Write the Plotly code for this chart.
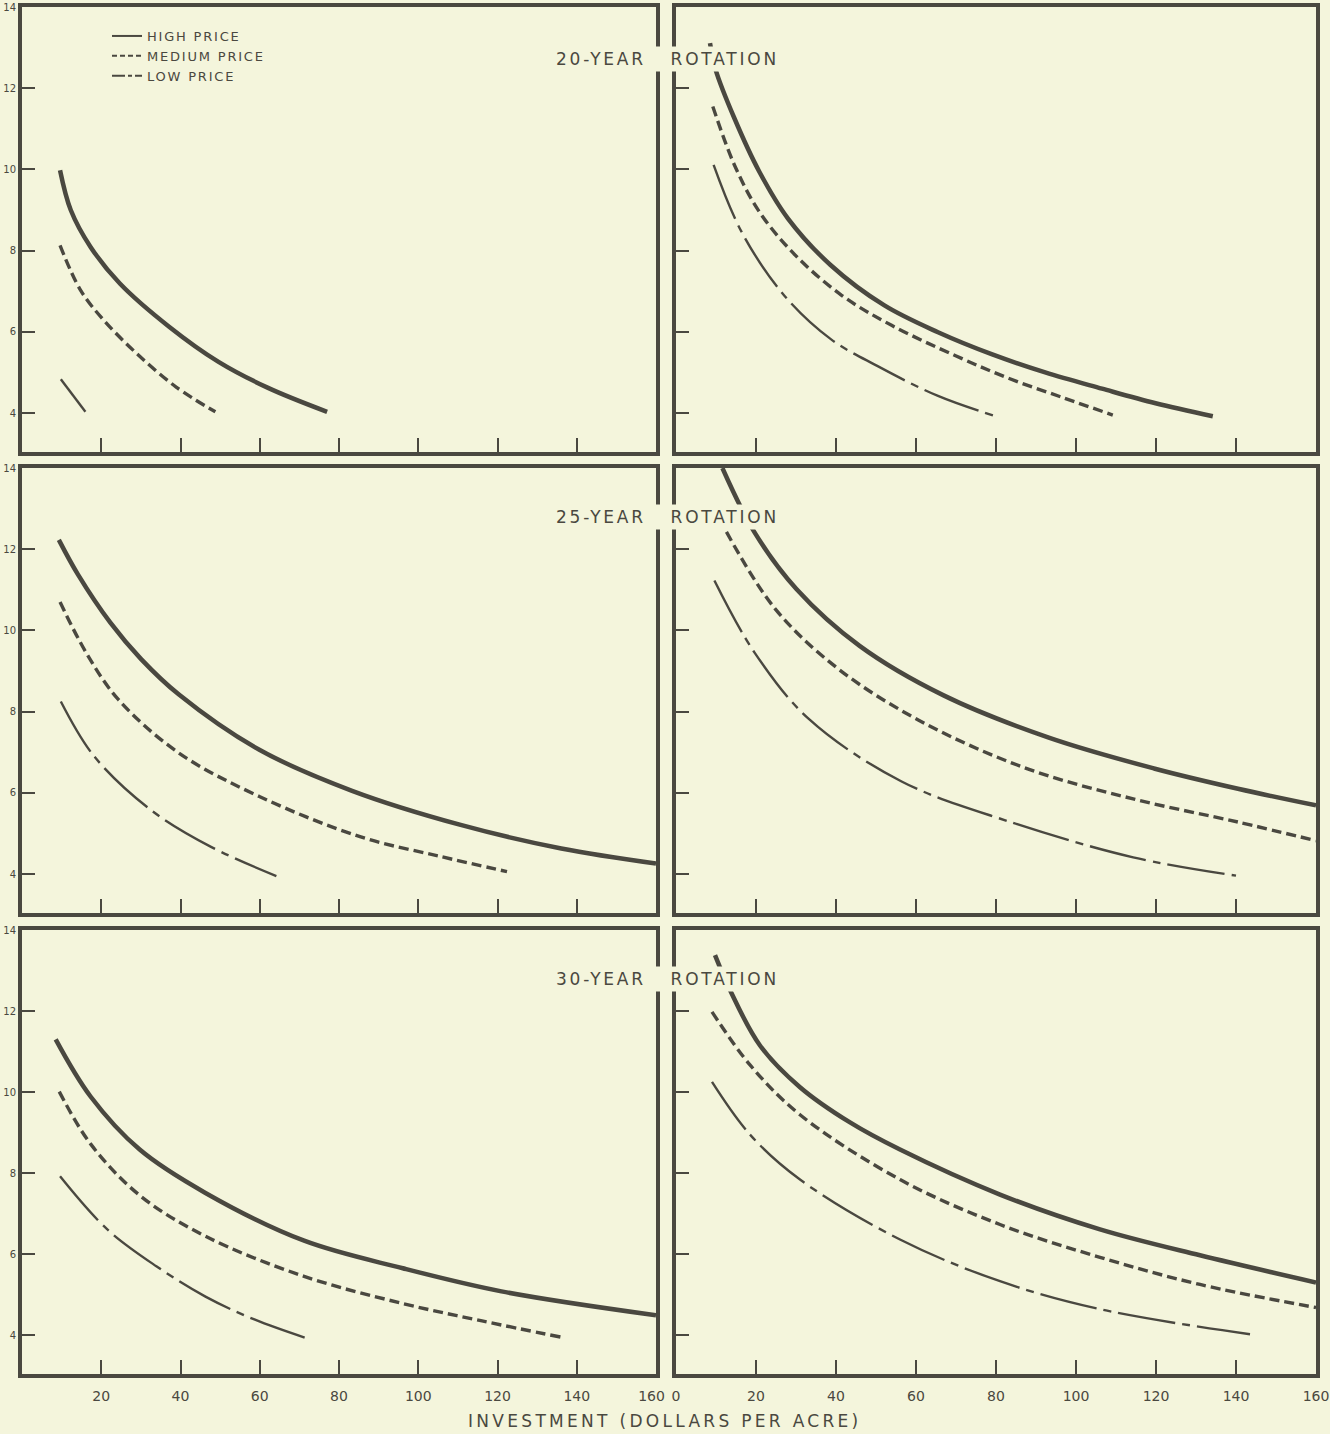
import plotly.graph_objects as go

# ---------------- data ----------------
ROTATION_LABELS = ["20-YEAR ROTATION", "25-YEAR ROTATION", "30-YEAR ROTATION"]
PRICE_LABELS = ["HIGH PRICE", "MEDIUM PRICE", "LOW PRICE"]
X_AXIS_TITLE = "INVESTMENT (DOLLARS PER ACRE)"

X_TICK_VALUES = [0, 20, 40, 60, 80, 100, 120, 140, 160]
X_TICK_TEXT = ["0", "20", "40", "60", "80", "100", "120", "140", "160"]
Y_TICK_VALUES = [4, 6, 8, 10, 12, 14]
Y_TICK_TEXT = ["4", "6", "8", "10", "12", "14"]

# 20-year rotation, left panel
R20L_HIGH_X = [9.6, 12.3, 17.3, 24.7, 37.2, 49.6, 62.1, 77.0]
R20L_HIGH_Y = [9.98, 9.0, 8.09, 7.19, 6.12, 5.26, 4.62, 4.03]
R20L_MED_X = [9.6, 14.8, 20.6, 28.9, 38.9, 48.8]
R20L_MED_Y = [8.13, 7.02, 6.29, 5.47, 4.64, 4.03]
R20L_LOW_X = [9.8, 16.0]
R20L_LOW_Y = [4.83, 4.03]

# 20-year rotation, right panel
R20R_HIGH_X = [8.5, 9.9, 14.6, 20.8, 28.0, 38.7, 52.1, 65.5, 78.9, 92.3, 106.5, 119.9, 134.2]
R20R_HIGH_Y = [13.11, 12.46, 11.26, 9.95, 8.79, 7.64, 6.65, 5.99, 5.45, 5.0, 4.6, 4.24, 3.92]
R20R_MED_X = [9.2, 14.6, 20.8, 29.8, 41.4, 53.9, 69.9, 83.3, 96.7, 109.2]
R20R_MED_Y = [11.55, 10.11, 8.96, 7.89, 6.90, 6.16, 5.41, 4.85, 4.38, 3.95]
R20R_LOW_X = [9.4, 16.4, 27.1, 38.7, 50.3, 65.5, 79.3]
R20R_LOW_Y = [10.11, 8.46, 6.89, 5.82, 5.16, 4.42, 3.94]

# 25-year rotation, left panel
R25L_HIGH_X = [9.3, 14.1, 22.3, 30.0, 39.6, 59.9, 83.3, 110.7, 136.1, 160.0]
R25L_HIGH_Y = [12.23, 11.38, 10.19, 9.30, 8.42, 7.06, 6.05, 5.21, 4.63, 4.26]
R25L_MED_X = [9.6, 16.2, 24.3, 39.6, 59.9, 85.3, 105.7, 122.4]
R25L_MED_Y = [10.70, 9.45, 8.30, 6.98, 5.91, 4.92, 4.43, 4.06]
R25L_LOW_X = [9.8, 18.2, 32.5, 47.7, 64.2]
R25L_LOW_Y = [8.25, 6.90, 5.58, 4.67, 3.95]

# 25-year rotation, right panel
R25R_HIGH_X = [11.6, 19.6, 30.1, 45.9, 66.9, 93.2, 119.5, 140.5, 160.0]
R25R_HIGH_Y = [14.0, 12.42, 11.02, 9.62, 8.40, 7.36, 6.60, 6.10, 5.69]
R25R_MED_X = [11.0, 12.2, 24.8, 40.6, 61.6, 87.9, 114.3, 140.5, 160.0]
R25R_MED_Y = [12.75, 12.50, 10.53, 9.05, 7.74, 6.59, 5.85, 5.28, 4.82]
R25R_LOW_X = [9.6, 19.6, 33.2, 56.4, 82.7, 114.3, 140.0]
R25R_LOW_Y = [11.23, 9.46, 7.82, 6.28, 5.31, 4.41, 3.96]

# 30-year rotation, left panel
R30L_HIGH_X = [8.5, 17.3, 29.7, 46.3, 71.2, 96.1, 121.0, 160.0]
R30L_HIGH_Y = [11.30, 9.89, 8.58, 7.51, 6.33, 5.65, 5.08, 4.49]
R30L_MED_X = [9.4, 17.3, 29.7, 46.3, 71.2, 96.1, 116.1, 136.0]
R30L_MED_Y = [10.01, 8.72, 7.45, 6.44, 5.45, 4.78, 4.35, 3.95]
R30L_LOW_X = [9.6, 21.4, 33.9, 46.3, 58.8, 72.5]
R30L_LOW_Y = [7.92, 6.62, 5.70, 4.95, 4.38, 3.90]

# 30-year rotation, right panel
R30R_HIGH_X = [9.75, 13.5, 21.0, 31.0, 43.5, 56.0, 81.0, 106.0, 131.0, 160.0]
R30R_HIGH_Y = [13.38, 12.52, 11.15, 10.12, 9.25, 8.58, 7.47, 6.61, 5.97, 5.30]
R30R_MED_X = [9.0, 18.5, 31.0, 56.0, 81.0, 106.0, 131.0, 160.0]
R30R_MED_Y = [11.98, 10.67, 9.44, 7.84, 6.73, 5.92, 5.25, 4.68]
R30R_LOW_X = [9.0, 18.5, 31.0, 56.0, 81.0, 106.0, 143.5]
R30R_LOW_Y = [10.25, 8.95, 7.84, 6.36, 5.33, 4.64, 4.02]

PANELS = [
    [(R20L_HIGH_X, R20L_HIGH_Y), (R20L_MED_X, R20L_MED_Y), (R20L_LOW_X, R20L_LOW_Y)],
    [(R20R_HIGH_X, R20R_HIGH_Y), (R20R_MED_X, R20R_MED_Y), (R20R_LOW_X, R20R_LOW_Y)],
    [(R25L_HIGH_X, R25L_HIGH_Y), (R25L_MED_X, R25L_MED_Y), (R25L_LOW_X, R25L_LOW_Y)],
    [(R25R_HIGH_X, R25R_HIGH_Y), (R25R_MED_X, R25R_MED_Y), (R25R_LOW_X, R25R_LOW_Y)],
    [(R30L_HIGH_X, R30L_HIGH_Y), (R30L_MED_X, R30L_MED_Y), (R30L_LOW_X, R30L_LOW_Y)],
    [(R30R_HIGH_X, R30R_HIGH_Y), (R30R_MED_X, R30R_MED_Y), (R30R_LOW_X, R30R_LOW_Y)],
]

# ---------------- styling / layout ----------------
W, H = 1330, 1434
BG = "#f4f5dc"
INK = "#4a4840"
FONT = "DejaVu Sans"

COL_PX = [(22, 656), (676, 1316)]
ROW_PX = [(7, 452), (468, 913), (930, 1374)]
X_RANGE = [0, 160]
Y_RANGE = [3.04, 14]

LINE_STYLES = [
    dict(color=INK, width=4.5, dash="solid"),
    dict(color=INK, width=3.4, dash="10px,5px"),
    dict(color=INK, width=2.4, dash="58px,7px,8px,7px"),
]
LEGEND_STYLES = [
    dict(color=INK, width=2, dash="solid"),
    dict(color=INK, width=2, dash="5px,3px"),
    dict(color=INK, width=2, dash="13px,3px,4px,3px"),
]


def spaced(text, ls):
    return '<span style="letter-spacing:%.1fpx">%s</span>' % (ls, text)


fig = go.Figure()
layout = dict(
    width=W, height=H,
    margin=dict(l=0, r=0, t=0, b=0),
    paper_bgcolor=BG, plot_bgcolor=BG,
    font=dict(family=FONT, color=INK, size=14),
    showlegend=True,
    legend=dict(
        x=107 / W, y=1 - 21 / H, xanchor="left", yanchor="top",
        bgcolor="rgba(0,0,0,0)", font=dict(size=13, color=INK, family=FONT),
        tracegroupgap=0,
    ),
)

for k in range(6):
    r, c = divmod(k, 2)
    ax = "" if k == 0 else str(k + 1)
    x0, x1 = COL_PX[c]
    ytop, ybot = ROW_PX[r]
    if c == 1:
        xt_vals, xt_text = X_TICK_VALUES, X_TICK_TEXT
    else:
        xt_vals = X_TICK_VALUES[1:]
        xt_text = X_TICK_TEXT[1:-1] + [X_TICK_TEXT[-1] + "\u00a0\u00a0"]
    layout["xaxis" + ax] = dict(
        domain=[x0 / W, x1 / W], range=X_RANGE, anchor="y" + ax,
        showline=True, mirror=True, linewidth=4, linecolor=INK,
        showgrid=False, zeroline=False,
        ticks="inside", ticklen=14, tickwidth=1.5, tickcolor=INK,
        tickmode="array", tickvals=xt_vals, ticktext=xt_text,
        showticklabels=(r == 2), ticklabelstandoff=6,
        tickfont=dict(size=14, color=INK, family=FONT),
        automargin=False, fixedrange=True,
    )
    layout["yaxis" + ax] = dict(
        domain=[1 - ybot / H, 1 - ytop / H], range=Y_RANGE, anchor="x" + ax,
        showline=True, mirror=True, linewidth=4, linecolor=INK,
        showgrid=False, zeroline=False,
        ticks="inside", ticklen=13, tickwidth=1.5, tickcolor=INK,
        tickmode="array", tickvals=Y_TICK_VALUES, ticktext=Y_TICK_TEXT,
        showticklabels=(c == 0), ticklabelstandoff=0,
        tickfont=dict(size=10, color=INK, family=FONT),
        automargin=False, fixedrange=True,
    )
    for j, (xs, ys) in enumerate(PANELS[k]):
        fig.add_trace(go.Scatter(
            x=xs, y=ys, mode="lines",
            line=dict(shape="spline", smoothing=1.0, **LINE_STYLES[j]),
            name=PRICE_LABELS[j], legendgroup=PRICE_LABELS[j],
            showlegend=False, hoverinfo="skip",
            xaxis="x" + ax, yaxis="y" + ax,
        ))

# legend keys (no data, only the key in the legend)
for j, label in enumerate(PRICE_LABELS):
    fig.add_trace(go.Scatter(
        x=[None], y=[None], mode="lines", line=LEGEND_STYLES[j],
        name=spaced(label, 1.8), legendgroup=label, showlegend=True,
        hoverinfo="skip", xaxis="x", yaxis="y",
    ))

annotations = []
TITLE_Y_PX = [59, 517, 979]
for r, label in enumerate(ROTATION_LABELS):
    annotations.append(dict(
        text=spaced(label.replace(" ", "\u00a0\u00a0\u00a0"), 2.8),
        x=667 / W, y=1 - TITLE_Y_PX[r] / H, xref="paper", yref="paper",
        xanchor="center", yanchor="middle", showarrow=False,
        bgcolor=BG, borderpad=2,
        font=dict(size=17, color=INK, family=FONT),
    ))
annotations.append(dict(
    text=spaced(X_AXIS_TITLE, 3.3),
    x=665 / W, y=1 - 1421 / H, xref="paper", yref="paper",
    xanchor="center", yanchor="middle", showarrow=False,
    font=dict(size=17, color=INK, family=FONT),
))
layout["annotations"] = annotations

fig.update_layout(**layout)
fig.write_html(
    "out.html",
    config={"displayModeBar": False, "staticPlot": False},
    post_script="document.body.style.margin='0';"
                "document.documentElement.style.overflow='hidden';"
                "document.body.style.overflow='hidden';",
)
